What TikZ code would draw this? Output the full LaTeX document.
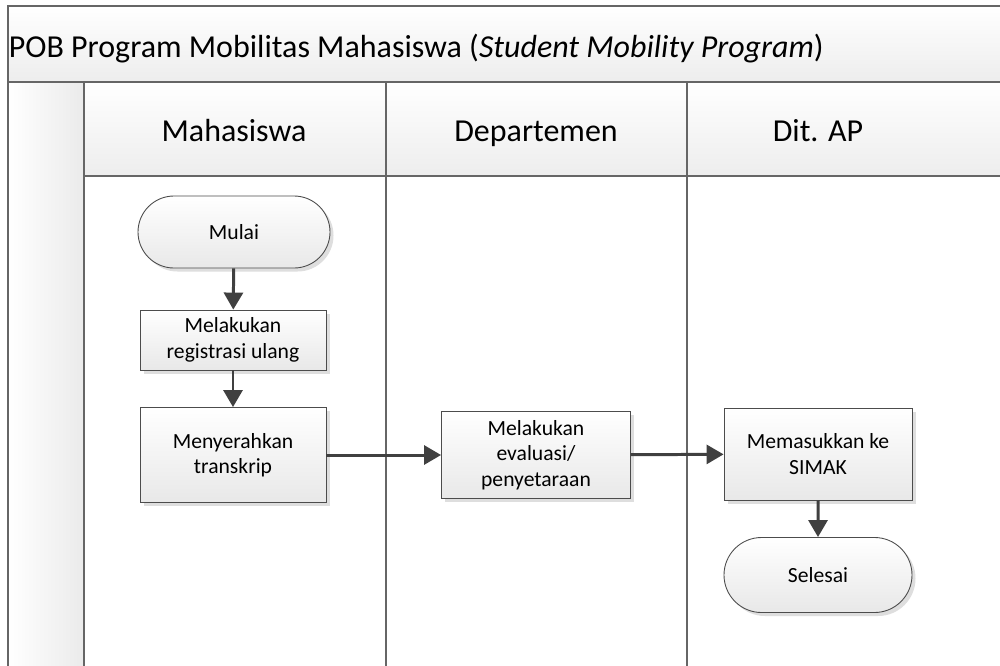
\documentclass[tikz,border=0pt]{standalone}
\usepackage{fontspec}
\setmainfont{Carlito}
\usetikzlibrary{arrows.meta,shapes.misc,shadows}

\begin{document}
\begin{tikzpicture}[
	lane/.style={draw=black!60,line width=0.8pt},
	proc/.style={draw=black!70,line width=0.5pt,top color=white,bottom color=black!9,
		drop shadow={shadow xshift=0.07cm,shadow yshift=-0.07cm,fill=black!13,opacity=1},
		font=\fontsize{12.3}{14.5}\selectfont,align=center,inner sep=0pt},
	term/.style={proc,rounded rectangle},
	flow/.style={-{Triangle[length=0.34cm,width=0.38cm]},draw=black!75,line width=1.7pt},
	big/.style={font=\fontsize{18.2}{21}\selectfont,anchor=base,inner sep=0pt}]
	  \useasboundingbox (0,0) rectangle (20,-13.3);
	  \clip (0,0) rectangle (20,-13.3);
	  \fill[white] (0,0) rectangle (20,-13.3);
	  \shade[top color=white,bottom color=black!7] (0.16,-0.12) rectangle (20.5,-1.64);
	  \shade[left color=white,right color=black!8] (0.16,-1.64) rectangle (1.68,-14);
	  \shade[top color=white,bottom color=black!7] (1.68,-1.64) rectangle (20.5,-3.52);
	  \draw[lane] (0.16,-14) -- (0.16,-0.12) -- (20.5,-0.12);
	  \draw[lane] (0.16,-1.64) -- (20.5,-1.64);
	  \draw[lane] (1.68,-3.52) -- (20.5,-3.52);
	  \draw[lane] (1.68,-1.64) -- (1.68,-14);
	  \draw[lane] (7.72,-1.64) -- (7.72,-14);
	  \draw[lane] (13.74,-1.64) -- (13.74,-14);
	  \node[big,anchor=base west] (judul) at (0.17,-1.14) {POB Program Mobilitas Mahasiswa (\textit{Student Mobility Program})};
	  \node[big] (mhs) at (4.68,-2.82) {Mahasiswa};
	  \node[big] (dept) at (10.72,-2.82) {Departemen};
	  \node[big] (ditap) at (16.36,-2.82) {Dit. AP};
	  \node[term,minimum width=3.84cm,minimum height=1.44cm] (mulai) at (4.68,-4.64) {Mulai};
	  \node[proc,minimum width=3.72cm,minimum height=1.2cm] (regis) at (4.66,-6.8) {Melakukan\\registrasi ulang};
	  \node[proc,minimum width=3.72cm,minimum height=1.9cm] (serah) at (4.66,-9.1) {Menyerahkan\\transkrip};
	  \node[proc,minimum width=3.78cm,minimum height=1.74cm] (eval) at (10.72,-9.1) {Melakukan\\evaluasi/\\penyetaraan};
	  \node[proc,minimum width=3.76cm,minimum height=1.84cm] (simak) at (16.36,-9.08) {Memasukkan ke\\SIMAK};
	  \node[term,minimum width=3.76cm,minimum height=1.5cm] (selesai) at (16.36,-11.5) {Selesai};
	  \draw[flow] (mulai) -- (regis);
	  \draw[flow] (regis) -- (serah);
	  \draw[flow] (serah) -- (eval);
	  \draw[flow] (eval) -- (simak);
	  \draw[flow] (simak) -- (selesai);
	\end{tikzpicture}
\end{document}
